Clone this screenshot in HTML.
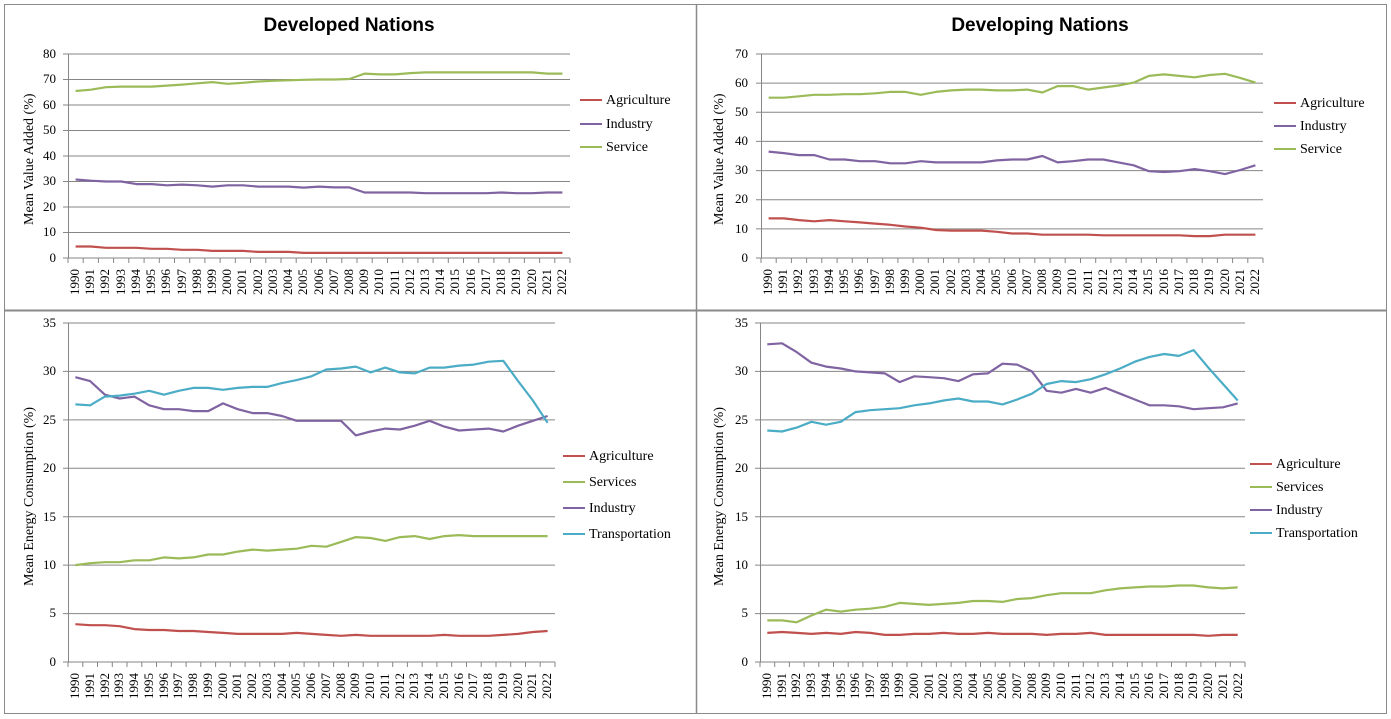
<!DOCTYPE html>
<html><head><meta charset="utf-8">
<style>
body{margin:0;width:1391px;height:719px;background:#fff;position:relative;overflow:hidden;font-family:"Liberation Serif",serif;}
.abs{position:absolute}
.t{font-family:"Liberation Sans",sans-serif;font-weight:bold;font-size:19px;color:#000;white-space:nowrap;transform:translateX(-50%)}
.yl{font-size:14px;white-space:nowrap;transform-origin:0 0;transform:rotate(-90deg)}
.tk{font-size:13px;text-align:right;width:30px;line-height:14px}
.yrs{display:flex;font-size:13px;line-height:13px}
.yrs span{writing-mode:vertical-rl;transform:rotate(180deg);text-align:right;flex:1;display:flex;justify-content:center;align-items:flex-start}
.lg{font-size:14px;white-space:nowrap}
.lg div{position:absolute;white-space:nowrap}
.lg i{display:inline-block;width:22px;height:2px;vertical-align:middle;margin-right:4px;position:relative;top:-1px}
</style></head><body>
<svg id="s" class="abs" style="left:0;top:0" width="1391" height="719"></svg>

<div class="abs t" style="left:349px;top:15px">Developed Nations</div>
<div class="abs t" style="left:1040px;top:15px">Developing Nations</div>

<div class="abs yl" style="left:22px;top:225px">Mean Value Added (%)</div>
<div class="abs yl" style="left:712px;top:225px">Mean Value Added (%)</div>
<div class="abs yl" style="left:22px;top:586px">Mean Energy Consumption (%)</div>
<div class="abs yl" style="left:712px;top:586px">Mean Energy Consumption (%)</div>

<div id="ticks"></div>

<div class="abs yrs" style="left:68px;top:262px;width:502px;height:40px"><span>1990</span><span>1991</span><span>1992</span><span>1993</span><span>1994</span><span>1995</span><span>1996</span><span>1997</span><span>1998</span><span>1999</span><span>2000</span><span>2001</span><span>2002</span><span>2003</span><span>2004</span><span>2005</span><span>2006</span><span>2007</span><span>2008</span><span>2009</span><span>2010</span><span>2011</span><span>2012</span><span>2013</span><span>2014</span><span>2015</span><span>2016</span><span>2017</span><span>2018</span><span>2019</span><span>2020</span><span>2021</span><span>2022</span></div>
<div class="abs yrs" style="left:761px;top:262px;width:502px;height:40px"><span>1990</span><span>1991</span><span>1992</span><span>1993</span><span>1994</span><span>1995</span><span>1996</span><span>1997</span><span>1998</span><span>1999</span><span>2000</span><span>2001</span><span>2002</span><span>2003</span><span>2004</span><span>2005</span><span>2006</span><span>2007</span><span>2008</span><span>2009</span><span>2010</span><span>2011</span><span>2012</span><span>2013</span><span>2014</span><span>2015</span><span>2016</span><span>2017</span><span>2018</span><span>2019</span><span>2020</span><span>2021</span><span>2022</span></div>
<div class="abs yrs" style="left:68px;top:666px;width:487px;height:40px"><span>1990</span><span>1991</span><span>1992</span><span>1993</span><span>1994</span><span>1995</span><span>1996</span><span>1997</span><span>1998</span><span>1999</span><span>2000</span><span>2001</span><span>2002</span><span>2003</span><span>2004</span><span>2005</span><span>2006</span><span>2007</span><span>2008</span><span>2009</span><span>2010</span><span>2011</span><span>2012</span><span>2013</span><span>2014</span><span>2015</span><span>2016</span><span>2017</span><span>2018</span><span>2019</span><span>2020</span><span>2021</span><span>2022</span></div>
<div class="abs yrs" style="left:760px;top:666px;width:485px;height:40px"><span>1990</span><span>1991</span><span>1992</span><span>1993</span><span>1994</span><span>1995</span><span>1996</span><span>1997</span><span>1998</span><span>1999</span><span>2000</span><span>2001</span><span>2002</span><span>2003</span><span>2004</span><span>2005</span><span>2006</span><span>2007</span><span>2008</span><span>2009</span><span>2010</span><span>2011</span><span>2012</span><span>2013</span><span>2014</span><span>2015</span><span>2016</span><span>2017</span><span>2018</span><span>2019</span><span>2020</span><span>2021</span><span>2022</span></div>

<div class="abs lg" style="left:580px;top:0">
<div style="top:93px"><i style="background:#C0504D"></i>Agriculture</div>
<div style="top:117px"><i style="background:#8064A2"></i>Industry</div>
<div style="top:140px"><i style="background:#9BBB59"></i>Service</div>
</div>
<div class="abs lg" style="left:1274px;top:0">
<div style="top:96px"><i style="background:#C0504D"></i>Agriculture</div>
<div style="top:119px"><i style="background:#8064A2"></i>Industry</div>
<div style="top:142px"><i style="background:#9BBB59"></i>Service</div>
</div>
<div class="abs lg" style="left:563px;top:0">
<div style="top:449px"><i style="background:#C0504D"></i>Agriculture</div>
<div style="top:475px"><i style="background:#9BBB59"></i>Services</div>
<div style="top:501px"><i style="background:#8064A2"></i>Industry</div>
<div style="top:527px"><i style="background:#4BACC6"></i>Transportation</div>
</div>
<div class="abs lg" style="left:1250px;top:0">
<div style="top:457px"><i style="background:#C0504D"></i>Agriculture</div>
<div style="top:480px"><i style="background:#9BBB59"></i>Services</div>
<div style="top:503px"><i style="background:#8064A2"></i>Industry</div>
<div style="top:526px"><i style="background:#4BACC6"></i>Transportation</div>
</div>

<div class="abs tk" style="left:26px;top:47px">80</div><div class="abs tk" style="left:26px;top:72px">70</div><div class="abs tk" style="left:26px;top:98px">60</div><div class="abs tk" style="left:26px;top:123px">50</div><div class="abs tk" style="left:26px;top:149px">40</div><div class="abs tk" style="left:26px;top:174px">30</div><div class="abs tk" style="left:26px;top:200px">20</div><div class="abs tk" style="left:26px;top:225px">10</div><div class="abs tk" style="left:26px;top:251px">0</div>
<div class="abs tk" style="left:718px;top:47px">70</div><div class="abs tk" style="left:718px;top:76px">60</div><div class="abs tk" style="left:718px;top:105px">50</div><div class="abs tk" style="left:718px;top:134px">40</div><div class="abs tk" style="left:718px;top:163px">30</div><div class="abs tk" style="left:718px;top:192px">20</div><div class="abs tk" style="left:718px;top:222px">10</div><div class="abs tk" style="left:718px;top:251px">0</div>
<div class="abs tk" style="left:26px;top:316px">35</div><div class="abs tk" style="left:26px;top:364px">30</div><div class="abs tk" style="left:26px;top:413px">25</div><div class="abs tk" style="left:26px;top:461px">20</div><div class="abs tk" style="left:26px;top:510px">15</div><div class="abs tk" style="left:26px;top:558px">10</div><div class="abs tk" style="left:26px;top:606px">5</div><div class="abs tk" style="left:26px;top:655px">0</div>
<div class="abs tk" style="left:718px;top:316px">35</div><div class="abs tk" style="left:718px;top:364px">30</div><div class="abs tk" style="left:718px;top:413px">25</div><div class="abs tk" style="left:718px;top:461px">20</div><div class="abs tk" style="left:718px;top:510px">15</div><div class="abs tk" style="left:718px;top:558px">10</div><div class="abs tk" style="left:718px;top:606px">5</div><div class="abs tk" style="left:718px;top:655px">0</div>

<script>
const s=document.getElementById('s');let h='';
h+='<rect x="4.5" y="4.5" width="1382" height="709" fill="none" stroke="#8a8a8a"/>';
h+='<line x1="4" y1="310.5" x2="1387" y2="310.5" stroke="#8a8a8a" stroke-width="2"/>';
h+='<line x1="696.5" y1="4" x2="696.5" y2="714" stroke="#8a8a8a" stroke-width="1.5"/>';
const C={a:'#C0504D',i:'#8064A2',s:'#9BBB59',t:'#4BACC6'};
function panel(L,R,T,B,max,step,series){
  for(let v=0;v<=max;v+=step){const y=B-(B-T)*v/max;h+=`<line x1="${L-5}" y1="${y.toFixed(1)}" x2="${R}" y2="${y.toFixed(1)}" stroke="#868686"/>`;}
  h+=`<line x1="${L}.5" y1="${T}" x2="${L}.5" y2="${B}" stroke="#868686"/>`;
  const w=(R-L)/33;
  for(let k=0;k<=33;k++){const x=L+w*k;h+=`<line x1="${x.toFixed(1)}" y1="${B}" x2="${x.toFixed(1)}" y2="${B+5}" stroke="#868686"/>`;}
  for(const [c,d] of series){h+=`<polyline fill="none" stroke="${C[c]}" stroke-width="2.2" stroke-linejoin="round" points="${d.map((v,k)=>(L+w*(k+.5)).toFixed(1)+','+(B-(B-T)*v/max).toFixed(1)).join(' ')}"/>`;}
}
panel(68,570,54,258,80,10,[
['a',[4.5,4.5,4,4,4,3.6,3.6,3.2,3.2,2.8,2.8,2.8,2.4,2.4,2.4,2,2,2,2,2,2,2,2,2,2,2,2,2,2,2,2,2,2]],
['i',[30.8,30.3,30,30,29,29,28.5,28.8,28.5,28,28.5,28.5,28,28,28,27.6,28,27.7,27.7,25.7,25.7,25.7,25.7,25.4,25.4,25.4,25.4,25.4,25.7,25.4,25.4,25.7,25.7]],
['s',[65.5,66,67,67.2,67.2,67.2,67.6,68,68.5,69,68.3,68.7,69.2,69.5,69.7,69.9,70,70,70.2,72.3,72,72,72.5,72.8,72.8,72.8,72.8,72.8,72.8,72.8,72.8,72.3,72.3]]]);
panel(761,1263,54,258,70,10,[
['a',[13.6,13.6,13,12.6,13,12.6,12.2,11.8,11.4,10.8,10.4,9.6,9.4,9.4,9.4,9,8.4,8.4,8,8,8,8,7.8,7.8,7.8,7.8,7.8,7.8,7.5,7.5,8,8,8]],
['i',[36.5,36,35.3,35.3,33.8,33.8,33.2,33.2,32.5,32.5,33.2,32.8,32.8,32.8,32.8,33.5,33.8,33.8,35,32.8,33.2,33.8,33.8,32.8,31.8,29.8,29.5,29.8,30.5,29.8,28.8,30.2,31.8]],
['s',[55,55,55.5,56,56,56.2,56.2,56.5,57,57,56,57,57.5,57.8,57.8,57.5,57.5,57.8,56.8,59,59,57.8,58.5,59.2,60.2,62.5,63,62.5,62,62.8,63.2,61.8,60.2]]]);
panel(68,555,323,662,35,5,[
['a',[3.9,3.8,3.8,3.7,3.4,3.3,3.3,3.2,3.2,3.1,3,2.9,2.9,2.9,2.9,3,2.9,2.8,2.7,2.8,2.7,2.7,2.7,2.7,2.7,2.8,2.7,2.7,2.7,2.8,2.9,3.1,3.2]],
['s',[10,10.2,10.3,10.3,10.5,10.5,10.8,10.7,10.8,11.1,11.1,11.4,11.6,11.5,11.6,11.7,12,11.9,12.4,12.9,12.8,12.5,12.9,13,12.7,13,13.1,13,13,13,13,13,13]],
['i',[29.4,29,27.6,27.2,27.4,26.5,26.1,26.1,25.9,25.9,26.7,26.1,25.7,25.7,25.4,24.9,24.9,24.9,24.9,23.4,23.8,24.1,24,24.4,24.9,24.3,23.9,24,24.1,23.8,24.4,24.9,25.4]],
['t',[26.6,26.5,27.4,27.5,27.7,28,27.6,28,28.3,28.3,28.1,28.3,28.4,28.4,28.8,29.1,29.5,30.2,30.3,30.5,29.9,30.4,29.9,29.8,30.4,30.4,30.6,30.7,31,31.1,29,27,24.7]]]);
panel(760,1245,323,662,35,5,[
['a',[3,3.1,3,2.9,3,2.9,3.1,3,2.8,2.8,2.9,2.9,3,2.9,2.9,3,2.9,2.9,2.9,2.8,2.9,2.9,3,2.8,2.8,2.8,2.8,2.8,2.8,2.8,2.7,2.8,2.8]],
['s',[4.3,4.3,4.1,4.8,5.4,5.2,5.4,5.5,5.7,6.1,6,5.9,6,6.1,6.3,6.3,6.2,6.5,6.6,6.9,7.1,7.1,7.1,7.4,7.6,7.7,7.8,7.8,7.9,7.9,7.7,7.6,7.7]],
['i',[32.8,32.9,32,30.9,30.5,30.3,30,29.9,29.8,28.9,29.5,29.4,29.3,29,29.7,29.8,30.8,30.7,30,28,27.8,28.2,27.8,28.3,27.7,27.1,26.5,26.5,26.4,26.1,26.2,26.3,26.7]],
['t',[23.9,23.8,24.2,24.8,24.5,24.8,25.8,26,26.1,26.2,26.5,26.7,27,27.2,26.9,26.9,26.6,27.1,27.7,28.7,29,28.9,29.2,29.7,30.3,31,31.5,31.8,31.6,32.2,30.4,28.7,27]]]);
s.innerHTML=h;
</script>
</body></html>
